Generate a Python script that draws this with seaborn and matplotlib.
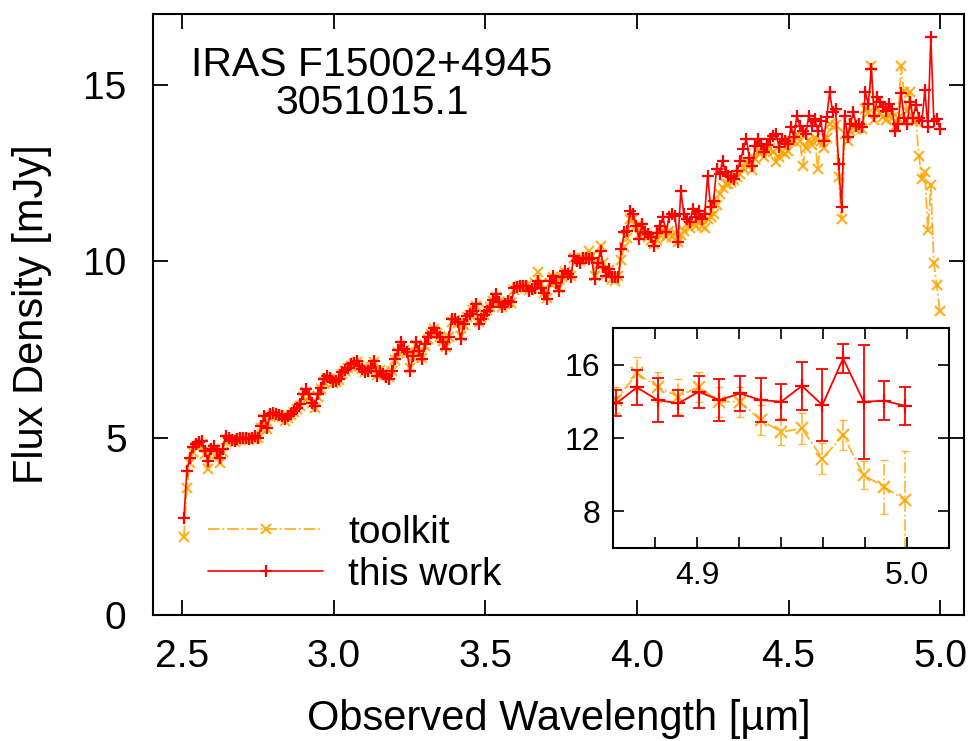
import numpy as np
import pandas as pd
import matplotlib
matplotlib.use("Agg")
import matplotlib.pyplot as plt
from matplotlib.ticker import MultipleLocator, FixedLocator
import seaborn as sns

# ---------------- data ----------------
wl_start = 2.505      # first wavelength sample [um]
wl_step = 0.009819    # spectral sampling [um]

red_flux = [
    2.75, 4.08, 4.45, 4.74, 4.83, 4.88, 4.92, 4.64, 4.36, 4.70,
    4.78, 4.64, 4.45, 4.70, 5.07, 5.02, 4.95, 4.92, 4.98, 5.00,
    5.02, 5.00, 4.98, 5.02, 5.05, 5.02, 5.35, 5.63, 5.30, 5.68,
    5.70, 5.68, 5.66, 5.63, 5.54, 5.62, 5.68, 5.77, 5.85, 5.96,
    6.25, 6.39, 6.25, 6.01, 5.92, 6.25, 6.43, 6.67, 6.76, 6.70,
    6.58, 6.62, 6.67, 6.86, 6.93, 7.00, 7.09, 7.12, 7.19, 7.05,
    6.96, 6.86, 6.90, 7.00, 7.19, 6.76, 6.91, 6.81, 6.74, 6.67,
    6.91, 7.24, 7.50, 7.71, 7.52, 7.43, 6.91, 7.33, 7.71, 7.47,
    7.24, 7.66, 7.85, 7.99, 8.13, 7.99, 7.85, 7.71, 7.52, 7.85,
    8.37, 8.37, 8.28, 7.80, 8.23, 8.46, 8.52, 8.60, 8.79, 8.23,
    8.37, 8.50, 8.60, 8.70, 8.90, 9.07, 8.84, 8.70, 8.80, 8.89,
    8.84, 9.26, 9.28, 9.31, 9.31, 9.31, 9.17, 9.22, 9.26, 9.45,
    9.26, 9.10, 8.94, 9.45, 9.59, 9.40, 9.17, 9.55, 9.74, 9.65,
    9.55, 10.16, 10.02, 9.97, 10.11, 10.09, 10.07, 10.11, 9.50, 9.97,
    10.30, 9.83, 9.59, 9.78, 9.55, 9.55, 9.55, 10.35, 10.82, 10.87,
    11.44, 11.34, 11.01, 10.63, 11.06, 10.82, 10.78, 10.68, 10.44, 10.80,
    11.01, 11.25, 10.82, 11.25, 11.34, 11.30, 10.54, 12.00, 11.34, 11.20,
    11.11, 11.49, 11.25, 11.44, 11.20, 11.35, 12.43, 11.53, 11.72, 12.62,
    12.47, 12.85, 12.52, 12.43, 12.40, 12.33, 12.57, 12.85, 13.18, 13.47,
    12.94, 12.71, 13.28, 13.47, 13.32, 13.09, 13.30, 13.47, 13.55, 13.61,
    13.23, 13.47, 13.40, 13.32, 13.80, 13.51, 14.12, 13.84, 13.70, 13.61,
    14.12, 13.84, 14.03, 13.70, 13.98, 13.42, 14.10, 14.78, 14.22, 14.31,
    12.76, 11.53, 14.12, 13.51, 13.90, 14.22, 13.84, 13.90, 13.80, 14.78,
    14.45, 15.45, 14.12, 14.64, 14.50, 14.36, 14.27, 14.45, 14.30, 13.70,
    13.89, 14.76, 14.07, 13.89, 14.52, 14.07, 14.43, 14.07, 13.98, 14.84,
    13.80, 16.34, 13.98, 14.03, 13.76,
]

orange_flux = [
    2.20, 3.60, 4.30, 4.60, 4.75, 4.80, 4.85, 4.55, 4.12, 4.60,
    4.70, 4.55, 4.31, 4.60, 4.95, 4.98, 4.92, 4.90, 4.95, 4.98,
    5.00, 4.98, 4.96, 5.00, 5.02, 5.00, 5.28, 5.55, 5.25, 5.60,
    5.66, 5.65, 5.64, 5.60, 5.50, 5.58, 5.65, 5.75, 5.82, 5.92,
    6.18, 6.30, 6.20, 6.00, 5.85, 6.18, 6.38, 6.60, 6.70, 6.68,
    6.55, 6.60, 6.65, 6.82, 6.90, 6.98, 7.05, 7.10, 7.15, 7.04,
    6.95, 6.88, 6.92, 7.02, 7.15, 6.80, 6.92, 6.85, 6.78, 6.72,
    6.90, 7.20, 7.45, 7.62, 7.50, 7.40, 7.00, 7.30, 7.65, 7.45,
    7.28, 7.62, 7.82, 7.95, 8.08, 7.98, 7.85, 7.75, 7.58, 7.85,
    8.30, 8.35, 8.25, 7.88, 8.20, 8.42, 8.50, 8.62, 8.75, 8.30,
    8.40, 8.50, 8.62, 8.70, 8.88, 9.00, 8.85, 8.72, 8.80, 8.85,
    8.82, 9.20, 9.25, 9.30, 9.32, 9.30, 9.20, 9.25, 9.40, 9.70,
    9.35, 9.10, 8.98, 9.40, 9.55, 9.42, 9.25, 9.55, 9.70, 9.65,
    9.60, 10.10, 10.05, 10.00, 10.10, 10.12, 10.30, 10.15, 9.60, 9.90,
    10.45, 9.95, 9.65, 9.75, 9.50, 9.45, 9.60, 10.05, 10.40, 10.65,
    11.20, 11.20, 11.00, 10.75, 10.95, 10.80, 10.70, 10.60, 10.50, 10.60,
    10.75, 10.90, 10.70, 10.85, 10.70, 10.80, 10.55, 10.75, 10.85, 11.06,
    10.95, 11.10, 11.00, 11.15, 11.00, 10.96, 11.20, 11.25, 11.34, 11.60,
    11.90, 12.09, 12.20, 12.20, 12.25, 12.30, 12.40, 12.47, 12.65, 12.80,
    12.70, 12.60, 12.90, 13.09, 13.10, 12.95, 13.13, 13.20, 13.10, 12.80,
    12.95, 13.10, 13.05, 13.13, 13.40, 13.42, 13.60, 13.40, 12.71, 13.20,
    13.45, 13.30, 13.50, 12.61, 13.40, 13.20, 13.50, 13.90, 13.80, 13.85,
    12.40, 11.20, 13.60, 13.40, 13.70, 13.90, 13.75, 13.80, 13.75, 14.30,
    14.20, 15.54, 14.00, 14.35, 14.20, 14.10, 14.00, 14.15, 14.05, 13.80,
    14.07, 15.52, 14.80, 14.25, 14.80, 13.98, 13.98, 12.98, 12.34, 12.52,
    10.88, 12.15, 9.97, 9.33, 8.60,
]

# 1-sigma errors of the last 15 samples (shown in the inset)
red_err_inset = [0.71, 0.96, 1.18, 0.71, 0.87, 1.14, 0.96, 1.20, 0.98, 1.32,
                 1.96, 0.80, 3.10, 1.07, 1.03]
orange_err_inset = [0.73, 0.91, 0.82, 0.96, 0.82, 0.82, 0.82, 0.82, 0.73, 0.82,
                    0.87, 0.82, 0.77, 1.46, 2.70]

series_labels = ["toolkit", "this work"]
title_lines = ["IRAS F15002+4945", "3051015.1"]
xticks_main = [2.5, 3.0, 3.5, 4.0, 4.5, 5.0]
yticks_main = [0, 5, 10, 15]
xticks_inset = [4.9, 5.0]
yticks_inset = [8, 12, 16]

# ---------------- build table ----------------
wl = wl_start + wl_step * np.arange(len(red_flux))
df = pd.DataFrame({"wl": wl, "red": red_flux, "orange": orange_flux})
df_in = df.iloc[-len(red_err_inset):].copy()
df_in["red_err"] = red_err_inset
df_in["orange_err"] = orange_err_inset

# ---------------- style ----------------
sns.set_theme(style="ticks")
plt.rcParams["font.family"] = ["Liberation Sans", "DejaVu Sans"]
plt.rcParams["axes.linewidth"] = 1.5
plt.rcParams["axes.edgecolor"] = "black"
plt.rcParams["text.color"] = "black"
plt.rcParams["axes.labelcolor"] = "black"
plt.rcParams["xtick.color"] = "black"
plt.rcParams["ytick.color"] = "black"
plt.rcParams["legend.labelcolor"] = "black"

ORANGE = "#FFA500"
RED = "#FF0000"

W, H = 970, 741
fig = plt.figure(figsize=(W / 100, H / 100), dpi=100)

# main axes
L, R, T, B = 153, 964, 14, 615
ax = fig.add_axes([L / W, 1 - B / H, (R - L) / W, (B - T) / H])

sns.lineplot(data=df, x="wl", y="orange", ax=ax, color=ORANGE, linestyle="-.",
             lw=1.3, marker="x", markersize=7, mew=1.6, mec=ORANGE, alpha=0.85,
             label=series_labels[0], estimator=None, sort=False)
sns.lineplot(data=df, x="wl", y="red", ax=ax, color=RED, lw=1.2, marker="+",
             markersize=9, mew=1.6, mec=RED, label=series_labels[1],
             estimator=None, sort=False)

ax.set_xlim(2.403, 5.079)
ax.set_ylim(0, 17)
ax.xaxis.set_major_locator(FixedLocator(xticks_main))
ax.yaxis.set_major_locator(FixedLocator(yticks_main))
ax.set_xticklabels([f"{v:.1f}" for v in xticks_main])
ax.set_yticklabels([f"{v:d}" for v in yticks_main])
ax.tick_params(direction="in", length=11, width=1.3, top=True, right=True,
               labelsize=28, colors="black", pad=17)
ax.tick_params(axis="y", pad=19)
for s in ax.spines.values():
    s.set_color("black")
    s.set_linewidth(1.5)

ax.set_xlabel("Observed Wavelength [\u00b5m]", fontsize=30, color="black")
ax.set_ylabel("Flux Density [mJy]", fontsize=30, color="black")
ax.xaxis.set_label_coords(0.5, -0.14)
ax.yaxis.set_label_coords(-0.125, 0.5)

ax.text(0.27, 0.915, title_lines[0], transform=ax.transAxes, fontsize=29.5,
        ha="center", va="center", color="black")
ax.text(0.27, 0.852, title_lines[1], transform=ax.transAxes, fontsize=29.5,
        ha="center", va="center", color="black")

leg = ax.legend(loc="lower left", bbox_to_anchor=(0.068, 0.037), frameon=False,
                handlelength=2.95, handletextpad=0.65, labelspacing=0.15,
                fontsize=28, numpoints=1, borderaxespad=0, borderpad=0)
for t in leg.get_texts():
    t.set_color("black")

# inset axes
iL, iR, iT, iB = 613, 949, 328, 548
axin = fig.add_axes([iL / W, 1 - iB / H, (iR - iL) / W, (iB - iT) / H])
axin.set_facecolor("white")

sns.lineplot(data=df, x="wl", y="orange", ax=axin, color=ORANGE, linestyle="-.",
             lw=1.3, marker="x", markersize=9, mew=1.6, mec=ORANGE, alpha=0.85,
             estimator=None, sort=False, legend=False)
eb_o = axin.errorbar(df_in["wl"], df_in["orange"], yerr=df_in["orange_err"],
                     fmt="none", ecolor=ORANGE, elinewidth=1.3, capsize=3,
                     alpha=0.75)
for lc in eb_o[2]:
    lc.set_linestyle("-.")
sns.lineplot(data=df, x="wl", y="red", ax=axin, color=RED, lw=1.3, marker="+",
             markersize=10, mew=1.6, mec=RED, estimator=None, sort=False,
             legend=False)
axin.errorbar(df_in["wl"], df_in["red"], yerr=df_in["red_err"], fmt="none",
              ecolor=RED, elinewidth=1.3, capsize=4, capthick=1.3)

axin.set_xlim(4.86, 5.02)
axin.set_ylim(6, 18)
axin.xaxis.set_major_locator(FixedLocator(xticks_inset))
axin.xaxis.set_minor_locator(MultipleLocator(0.02))
axin.yaxis.set_major_locator(FixedLocator(yticks_inset))
axin.set_xticklabels([f"{v:.1f}" for v in xticks_inset])
axin.set_yticklabels([f"{v:d}" for v in yticks_inset])
axin.tick_params(which="both", direction="in", length=8, width=1.2, top=True,
                 right=True, labelsize=23, colors="black")
axin.tick_params(axis="x", pad=9)
axin.tick_params(axis="y", pad=9)
axin.set_xlabel("")
axin.set_ylabel("")
for s in axin.spines.values():
    s.set_color("black")
    s.set_linewidth(1.5)

fig.savefig("out.png", dpi=100, facecolor="white")
